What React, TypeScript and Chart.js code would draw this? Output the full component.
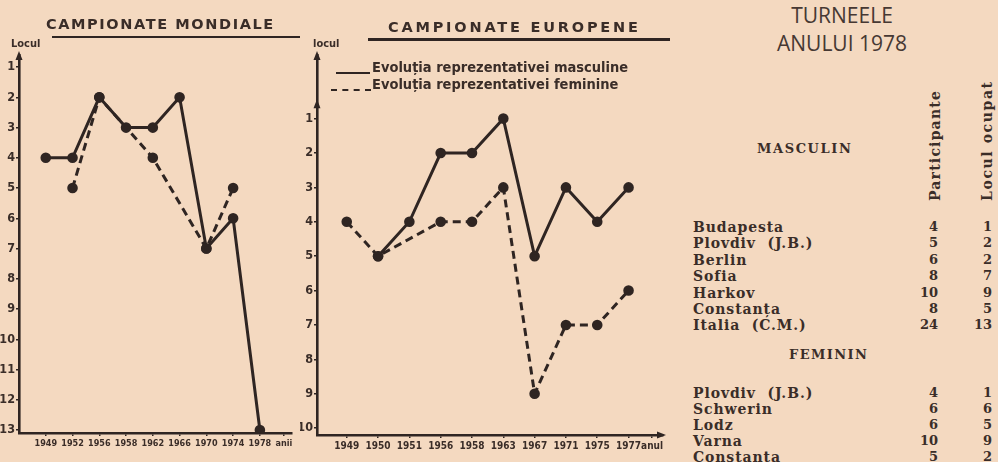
import React, { useEffect, useRef } from 'react';
import { Chart, registerables } from 'chart.js';

Chart.register(...registerables);

// ---------- DATA ----------
const worldYears = ['1949', '1952', '1956', '1958', '1962', '1966', '1970', '1974', '1978'];
const worldMen: (number | null)[] = [4, 4, 2, 3, 3, 2, 7, 6, 13];
const worldWomen: (number | null)[] = [null, 5, 2, null, 4, null, 7, 5, null];
const worldAxisWord = 'anii';
const worldRanks = [1, 2, 3, 4, 5, 6, 7, 8, 9, 10, 11, 12, 13];

const euroYears = ['1949', '1950', '1951', '1956', '1958', '1963', '1967', '1971', '1975', '1977'];
const euroMen: (number | null)[] = [null, 5, 4, 2, 2, 1, 5, 3, 4, 3];
const euroWomen: (number | null)[] = [4, 5, null, 4, 4, 3, 9, 7, 7, 6];
const euroAxisWord = 'anul';
const euroRanks = [1, 2, 3, 4, 5, 6, 7, 8, 9, 10];

const menTournaments = ['Budapesta', 'Plovdiv  (J.B.)', 'Berlin', 'Sofia', 'Harkov', 'Constanța', 'Italia  (C.M.)'];
const menParticipants = [4, 5, 6, 8, 10, 8, 24];
const menPlace = [1, 2, 2, 7, 9, 5, 13];
const womenTournaments = ['Plovdiv  (J.B.)', 'Schwerin', 'Lodz', 'Varna', 'Constanta'];
const womenParticipants = [4, 6, 6, 10, 5];
const womenPlace = [1, 6, 5, 9, 2];

const legendMen = 'Evoluția reprezentativei masculine';
const legendWomen = 'Evoluția reprezentativei feminine';

// ---------- STYLE ----------
const INK = '#2f2522';
const TEXT = '#3a2d28';
const PAPER = '#f4d9c0';
const COND = '"Liberation Sans Narrow", "DejaVu Sans Condensed", "Roboto Condensed", "Noto Sans", sans-serif';
const SERIF = '"DejaVu Serif", "Liberation Serif", serif';

const arrowPlugin = {
  id: 'arrows',
  afterDraw(chart: any, _a: any, opts: any) {
    const { ctx, chartArea } = chart;
    const { left, top, right, bottom } = chartArea;
    ctx.save();
    ctx.fillStyle = INK;
    const up = (x: number, y: number) => {
      ctx.beginPath();
      ctx.moveTo(x, y - 4);
      ctx.lineTo(x - 3.5, y + 5);
      ctx.lineTo(x + 3.5, y + 5);
      ctx.closePath();
      ctx.fill();
    };
    up(left, top);
    if (opts && opts.extraY != null) up(left, chart.scales.y.getPixelForValue(opts.extraY));
    if (opts && opts.right) {
      ctx.beginPath();
      ctx.moveTo(right + 3, bottom);
      ctx.lineTo(right - 6, bottom - 3.5);
      ctx.lineTo(right - 6, bottom + 3.5);
      ctx.closePath();
      ctx.fill();
    }
    ctx.restore();
  },
};

type Cfg = {
  years: string[];
  word: string;
  wordPos: number;
  men: (number | null)[];
  women: (number | null)[];
  ranks: number[];
  xMin: number;
  xMax: number;
  yMin: number;
  yMax: number;
  yWidth: number;
  xHeight: number;
  padTop: number;
  padRight: number;
  xFont: number;
  extraY?: number;
  rightArrow?: boolean;
};

function makeChart(canvas: HTMLCanvasElement, c: Cfg) {
  const toPts = (arr: (number | null)[]) => arr.map((v, i) => ({ x: i, y: v }));
  return new Chart(canvas, {
    type: 'line',
    data: {
      datasets: [
        {
          label: legendMen,
          data: toPts(c.men) as any,
          borderColor: INK,
          backgroundColor: INK,
          borderWidth: 3,
          pointRadius: 3.8,
          pointBackgroundColor: INK,
          pointBorderColor: INK,
          tension: 0,
          spanGaps: true,
        },
        {
          label: legendWomen,
          data: toPts(c.women) as any,
          borderColor: INK,
          backgroundColor: INK,
          borderWidth: 3,
          borderDash: [8, 5],
          pointRadius: 3.8,
          pointBackgroundColor: INK,
          pointBorderColor: INK,
          tension: 0,
          spanGaps: true,
        },
      ],
    },
    options: {
      animation: false,
      responsive: false,
      maintainAspectRatio: false,
      devicePixelRatio: 1,
      layout: { padding: { top: c.padTop, right: c.padRight, left: 0, bottom: 0 } },
      plugins: {
        legend: { display: false },
        tooltip: { enabled: false },
        arrows: { extraY: c.extraY, right: c.rightArrow },
      } as any,
      scales: {
        x: {
          type: 'linear',
          min: c.xMin,
          max: c.xMax,
          afterBuildTicks: (s: any) => {
            s.ticks = [...c.years.map((_, i) => ({ value: i })), { value: c.wordPos }];
          },
          afterFit: (s: any) => {
            s.height = c.xHeight;
          },
          ticks: {
            autoSkip: false,
            maxRotation: 0,
            minRotation: 0,
            padding: 2,
            color: TEXT,
            font: { family: COND, size: c.xFont, weight: 'bold' },
            callback: (_v: any, idx: number) => (idx < c.years.length ? c.years[idx] : c.word),
          },
          grid: { drawOnChartArea: false, drawTicks: true, tickLength: 3, color: INK, lineWidth: 1.5 },
          border: { display: true, color: INK, width: 2.6 },
        },
        y: {
          type: 'linear',
          reverse: true,
          min: c.yMin,
          max: c.yMax,
          afterBuildTicks: (s: any) => {
            s.ticks = c.ranks.map((v) => ({ value: v }));
          },
          afterFit: (s: any) => {
            s.width = c.yWidth;
          },
          ticks: {
            padding: 1,
            color: TEXT,
            font: { family: COND, size: 12.5, weight: 'bold' },
            callback: (v: any) => String(v),
          },
          grid: { drawOnChartArea: false, drawTicks: true, tickLength: 3, color: INK, lineWidth: 1.5 },
          border: { display: true, color: INK, width: 2.6 },
        },
      },
    },
    plugins: [arrowPlugin as any],
  });
}

const abs = (s: React.CSSProperties): React.CSSProperties => ({ position: 'absolute', ...s });

export default function App() {
  const leftRef = useRef<HTMLCanvasElement>(null);
  const midRef = useRef<HTMLCanvasElement>(null);

  useEffect(() => {
    const a = makeChart(leftRef.current!, {
      years: worldYears,
      word: worldAxisWord,
      wordPos: 8.9,
      men: worldMen,
      women: worldWomen,
      ranks: worldRanks,
      xMin: -1.0,
      xMax: 9.2,
      yMin: 0.6,
      yMax: 13.1,
      yWidth: 19,
      xHeight: 29,
      padTop: 55,
      padRight: 8,
      xFont: 9,
    });
    const b = makeChart(midRef.current!, {
      years: euroYears,
      word: euroAxisWord,
      wordPos: 9.75,
      men: euroMen,
      women: euroWomen,
      ranks: euroRanks,
      xMin: -0.95,
      xMax: 10.1,
      yMin: -0.85,
      yMax: 10.2,
      yWidth: 17,
      xHeight: 27,
      padTop: 55,
      padRight: 5,
      xFont: 10,
      extraY: 0.55,
      rightArrow: true,
    });
    return () => {
      a.destroy();
      b.destroy();
    };
  }, []);

  const rowStyle = (top: number): React.CSSProperties =>
    abs({ left: 693, top: top - 9, fontFamily: SERIF, fontWeight: 'bold', fontSize: 14, color: TEXT, whiteSpace: 'pre', lineHeight: '18px', letterSpacing: 0.9 });
  const numStyle = (top: number, right: number): React.CSSProperties =>
    abs({ left: right - 40, width: 40, top: top - 9, textAlign: 'right', fontFamily: SERIF, fontWeight: 'bold', fontSize: 13, color: TEXT, lineHeight: '18px' });

  const menRowsY = menTournaments.map((_, i) => 227 + i * 16.4);
  const womenRowsY = womenTournaments.map((_, i) => 393 + i * 16);

  return (
    <div style={abs({ position: 'fixed', left: 0, top: 0, width: 998, height: 462, overflow: 'hidden', background: PAPER })}>
      {/* left chart */}
      <canvas ref={leftRef} width={300} height={462} style={abs({ left: 0, top: 0, width: 300, height: 462 })} />
      {/* middle chart */}
      <canvas ref={midRef} width={370} height={462} style={abs({ left: 300, top: 0, width: 370, height: 462 })} />

      {/* titles */}
      <div style={abs({ left: 46, top: 15, fontFamily: '"DejaVu Sans", sans-serif', fontWeight: 'bold', fontSize: 14.5, letterSpacing: 1.6, color: TEXT, whiteSpace: 'nowrap', lineHeight: '18px' })}>
        CAMPIONATE MONDIALE
      </div>
      <div style={abs({ left: 52, top: 36, width: 248, height: 2, background: INK })} />
      <div style={abs({ left: 388, top: 18, fontFamily: '"DejaVu Sans", sans-serif', fontWeight: 'bold', fontSize: 14.5, letterSpacing: 2.8, color: TEXT, whiteSpace: 'nowrap', lineHeight: '18px' })}>
        CAMPIONATE EUROPENE
      </div>
      <div style={abs({ left: 368, top: 38, width: 302, height: 2.5, background: INK })} />

      {/* axis titles */}
      <div style={abs({ left: 11, top: 38, fontFamily: COND, fontWeight: 'bold', fontSize: 11, color: TEXT, lineHeight: '12px' })}>Locul</div>
      <div style={abs({ left: 313, top: 38, fontFamily: COND, fontWeight: 'bold', fontSize: 11, color: TEXT, lineHeight: '12px' })}>locul</div>

      {/* legend */}
      <div style={abs({ left: 336, top: 72, width: 34, height: 0, borderTop: `2.5px solid ${INK}` })} />
      <div style={abs({ left: 331, top: 89, width: 40, height: 0, borderTop: `2.5px dashed ${INK}` })} />
      <div style={abs({ left: 372, top: 59, fontFamily: COND, fontWeight: 'bold', fontSize: 14.5, color: TEXT, whiteSpace: 'nowrap', lineHeight: '16px' })}>
        {legendMen}
      </div>
      <div style={abs({ left: 372, top: 76, fontFamily: COND, fontWeight: 'bold', fontSize: 14.5, color: TEXT, whiteSpace: 'nowrap', lineHeight: '16px' })}>
        {legendWomen}
      </div>

      {/* right table */}
      <div style={abs({ left: 760, top: 1, width: 164, textAlign: 'center', fontFamily: '"Open Sans", sans-serif', fontSize: 21, color: '#463833', lineHeight: '28px' })}>
        TURNEELE
        <br />
        ANULUI 1978
      </div>
      <div style={abs({ left: 757, top: 141, fontFamily: SERIF, fontWeight: 'bold', fontSize: 13, letterSpacing: 1.6, color: TEXT, lineHeight: '16px' })}>MASCULIN</div>
      <div style={abs({ left: 789, top: 347, fontFamily: SERIF, fontWeight: 'bold', fontSize: 13, letterSpacing: 1.4, color: TEXT, lineHeight: '16px' })}>FEMININ</div>
      <div style={abs({ left: 927, top: 201, transform: 'rotate(-90deg)', transformOrigin: 'left top', fontFamily: SERIF, fontWeight: 'bold', fontSize: 14, letterSpacing: 1.2, color: TEXT, whiteSpace: 'nowrap', lineHeight: '16px' })}>
        Participante
      </div>
      <div style={abs({ left: 979, top: 201, transform: 'rotate(-90deg)', transformOrigin: 'left top', fontFamily: SERIF, fontWeight: 'bold', fontSize: 14, letterSpacing: 1.6, color: TEXT, whiteSpace: 'nowrap', lineHeight: '16px' })}>
        Locul ocupat
      </div>

      {menTournaments.map((t, i) => (
        <React.Fragment key={'m' + i}>
          <div style={rowStyle(menRowsY[i])}>{t}</div>
          <div style={numStyle(menRowsY[i], 938)}>{menParticipants[i]}</div>
          <div style={numStyle(menRowsY[i], 992)}>{menPlace[i]}</div>
        </React.Fragment>
      ))}
      {womenTournaments.map((t, i) => (
        <React.Fragment key={'w' + i}>
          <div style={rowStyle(womenRowsY[i])}>{t}</div>
          <div style={numStyle(womenRowsY[i], 938)}>{womenParticipants[i]}</div>
          <div style={numStyle(womenRowsY[i], 992)}>{womenPlace[i]}</div>
        </React.Fragment>
      ))}
    </div>
  );
}
